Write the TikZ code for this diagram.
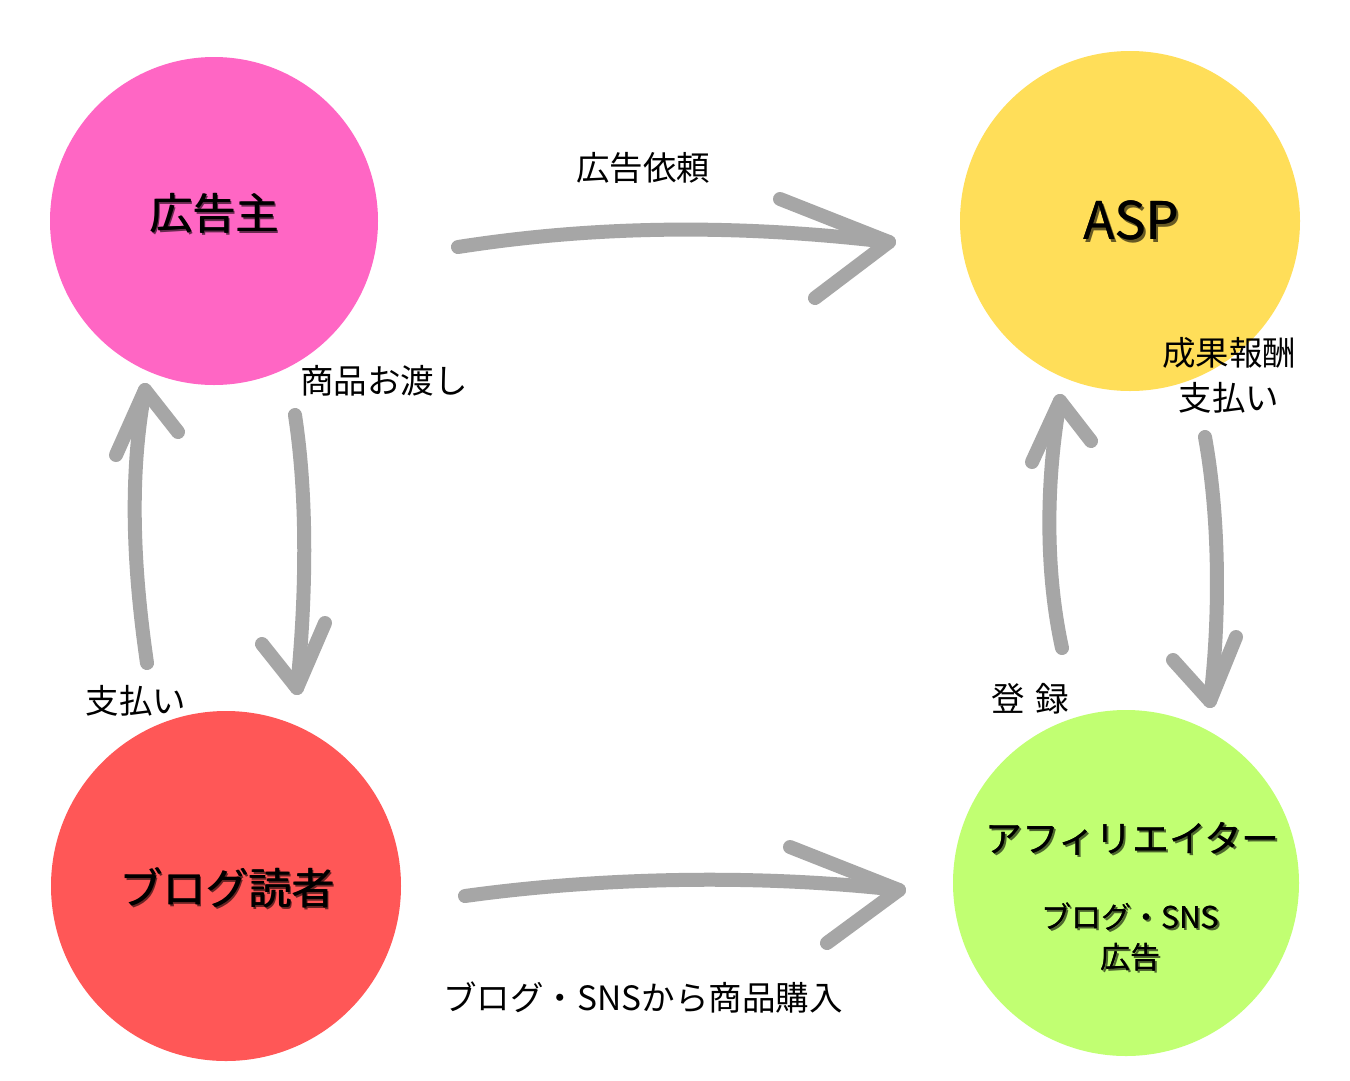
\documentclass[tikz,border=0pt]{standalone}
\usepackage{fontspec}
\setmainfont{Noto Sans CJK JP}
\definecolor{cpink}{HTML}{FF66C4}
\definecolor{cyellow}{HTML}{FFDE59}
\definecolor{cred}{HTML}{FF5757}
\definecolor{cgreen}{HTML}{C1FF72}
\definecolor{arrowgray}{HTML}{A6A6A6}
\newcommand{\shtext}[2]{\makebox[0pt][l]{\kern2.2pt\raisebox{-2.2pt}{\textcolor{#1}{#2}}}\makebox[0pt][l]{\kern0.5pt{#2}}#2}
\tikzset{
  bubble/.style={circle, inner sep=0pt, draw=none},
  bigtext/.style={text=black, inner sep=0pt, align=center},
  lbl/.style={font=\fontsize{33.5}{40}\selectfont, text=black, inner sep=0pt},
  sketch/.style={draw=arrowgray, line width=14pt, line cap=round, line join=round}
}
\begin{document}
\begin{tikzpicture}[x=1pt,y=-1pt]
\useasboundingbox[fill=white] (0,0) rectangle (1350,1080);
% circles
\node[bubble, fill=cpink, minimum size=328pt] (adv) at (214,221) {};
\node[bubble, fill=cyellow, minimum size=340pt] (asp) at (1130,221) {};
\node[bubble, fill=cred, minimum size=350pt] (reader) at (226,886) {};
\node[bubble, fill=cgreen, minimum size=346pt] (aff) at (1126,883) {};
% circle texts
\node[bigtext, font=\fontsize{43}{50}\selectfont] (advt) at (214,214) {\shtext{cpink!40!black}{広告主}};
\node[bigtext, font=\fontsize{52}{60}\selectfont] (aspt) at (1131,222) {\shtext{cyellow!40!black}{ASP}};
\node[bigtext, font=\fontsize{43}{50}\selectfont] (readert) at (227,889) {\shtext{cred!40!black}{ブログ読者}};
\node[bigtext, font=\fontsize{37}{44}\selectfont] (afft) at (1132,840) {\shtext{cgreen!40!black}{アフィリエイター}};
\node[bigtext, font=\fontsize{30}{40}\selectfont] (affs) at (1130,938) {\shtext{cgreen!40!black}{ブログ・SNS}\\\shtext{cgreen!40!black}{広告}};
% labels
\node[lbl] (l1) at (643,168) {広告依頼};
\node[lbl] (l2) at (384,381) {商品お渡し};
\node[lbl, align=center, font=\fontsize{33.5}{45}\selectfont] (l3) at (1229,375) {成果報酬\\支払い};
\node[lbl] (l4) at (136,701) {支払い};
\node[lbl] (l5) at (1030,699) {登\hspace{0.3em}録};
\node[lbl] (l6) at (643,997) {ブログ・SNSから商品購入};
% arrow coordinates
\coordinate (a1s) at (458,247); \coordinate (a1t) at (889,242);
\coordinate (a1u) at (780,199); \coordinate (a1d) at (815,298);
\coordinate (a2s) at (465,896); \coordinate (a2t) at (899,890);
\coordinate (a2u) at (790,847); \coordinate (a2d) at (827,943);
\coordinate (a3s) at (147,663); \coordinate (a3t) at (145,390);
\coordinate (a3l) at (116,455); \coordinate (a3r) at (178,432);
\coordinate (a4s) at (295,415); \coordinate (a4t) at (297,688);
\coordinate (a4l) at (262,644); \coordinate (a4r) at (325,623);
\coordinate (a5s) at (1062,648); \coordinate (a5t) at (1060,401);
\coordinate (a5l) at (1032,462); \coordinate (a5r) at (1091,441);
\coordinate (a6s) at (1205,437); \coordinate (a6t) at (1210,701);
\coordinate (a6l) at (1173,660); \coordinate (a6r) at (1236,637);
% arrows
\draw[sketch] (a1s) .. controls (580,228) and (720,222) .. (a1t);
\draw[sketch] (a1u) -- (a1t) -- (a1d);
\draw[sketch] (a2s) .. controls (580,880) and (740,872) .. (a2t);
\draw[sketch] (a2u) -- (a2t) -- (a2d);
\draw[sketch] (a3s) .. controls (132,560) and (130,470) .. (a3t);
\draw[sketch] (a3l) -- (a3t) -- (a3r);
\draw[sketch] (a4s) .. controls (308,500) and (306,600) .. (a4t);
\draw[sketch] (a4l) -- (a4t) -- (a4r);
\draw[sketch] (a5s) .. controls (1045,570) and (1046,480) .. (a5t);
\draw[sketch] (a5l) -- (a5t) -- (a5r);
\draw[sketch] (a6s) .. controls (1220,520) and (1220,620) .. (a6t);
\draw[sketch] (a6l) -- (a6t) -- (a6r);
\end{tikzpicture}
\end{document}
